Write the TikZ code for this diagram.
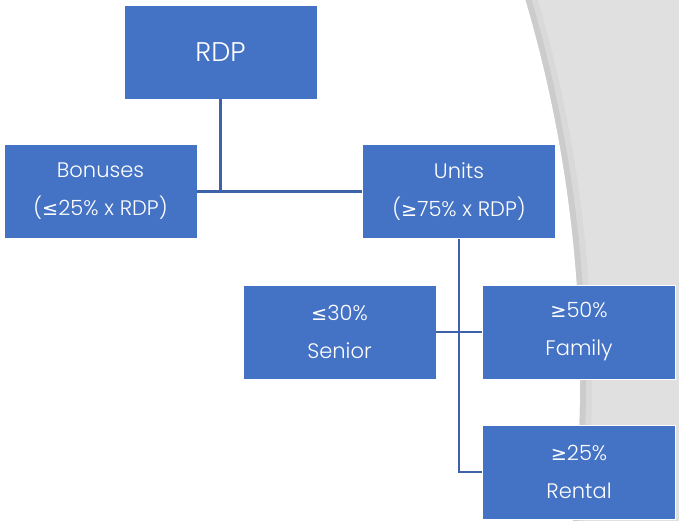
\documentclass[tikz,border=0pt]{standalone}
\usepackage{fontspec}
\setmainfont{Poppins}[UprightFont=* Light]
\newfontfamily\symfont{DejaVu Sans}[Scale=0.92]
\newcommand\lesym{{\symfont ≤}}
\newcommand\gesym{{\symfont ≥}}
\definecolor{boxblue}{HTML}{4472C4}
\definecolor{lineblue}{HTML}{3D62AA}
\tikzset{
  box/.style={fill=boxblue, draw=white, line width=0.8pt, text=white,
    minimum width=193pt, minimum height=94pt, inner sep=0pt, align=center,
    font=\fontsize{21}{38}\selectfont},
  link/.style={draw=lineblue, line width=2.6pt}
}
\begin{document}
\begin{tikzpicture}[x=1pt,y=-1pt]
  \useasboundingbox (0,0) rectangle (679,521);
  \begin{scope}
    \clip (0,0) rectangle (679,521);
    \fill[black!12] (0,0) rectangle (679,521);
    \draw[black!15, line width=12pt] (-760,380) circle (1346);
    \draw[black!20, line width=6pt] (-760,380) circle (1343);
    \fill[white] (-760,380) circle (1340);
  \end{scope}

  \node[box, font=\fontsize{27}{30}\selectfont] (rdp) at (220.5,52) {RDP};
  \node[box] (bonuses) at (100.5,191.5) {Bonuses\\(\lesym25\% x RDP)};
  \node[box] (units)   at (459,191.5) {Units\\(\gesym75\% x RDP)};
  \node[box] (senior)  at (339.5,332) {\lesym30\%\\Senior};
  \node[box] (family)  at (579,332) {\gesym50\%\\Family};
  \node[box] (rental)  at (579,472) {\gesym25\%\\Rental};

  \draw[link] (bonuses.east) -- (units.west);
  \draw[link] (rdp.south) -- (rdp.south |- units.west);
  \draw[link] (senior.east) -- (family.west);
  \draw[link] (units.south) |- (rental.west);
\end{tikzpicture}
\end{document}
